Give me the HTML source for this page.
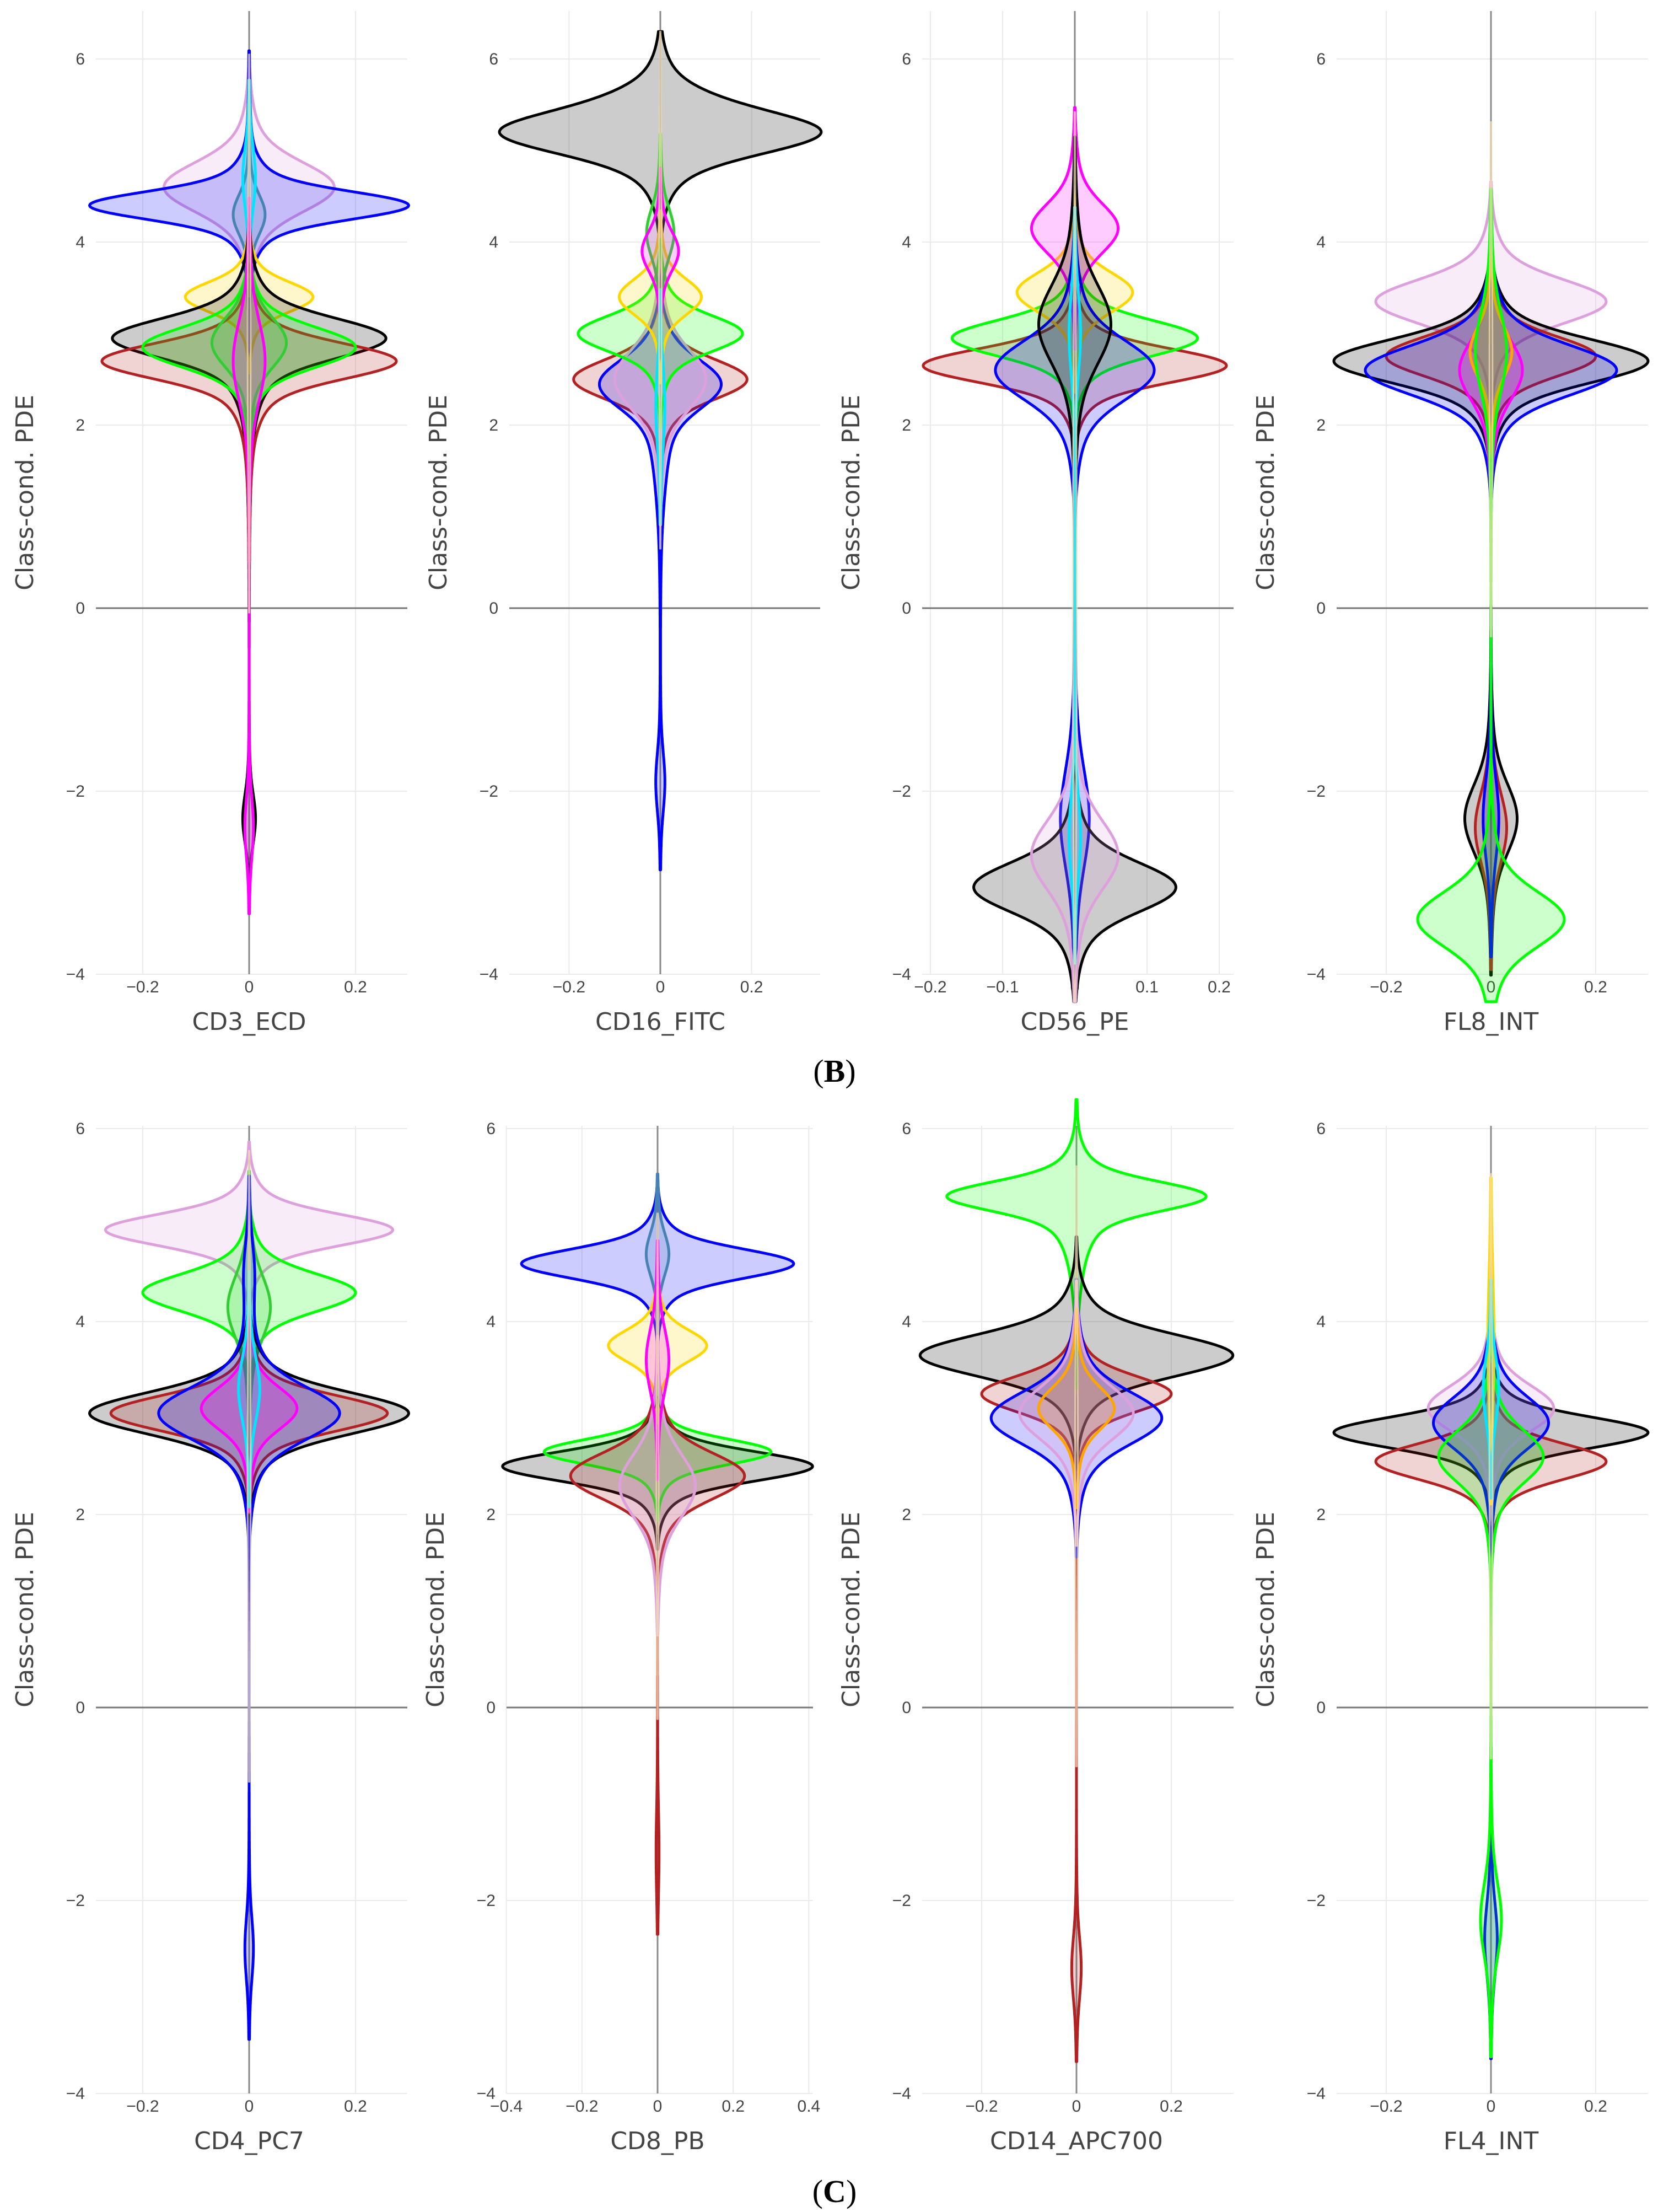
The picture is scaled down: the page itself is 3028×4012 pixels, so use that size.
<!DOCTYPE html>
<html><head><meta charset="utf-8">
<style>
html,body{margin:0;padding:0;background:#fff;}
svg{display:block;}
.tick{font-family:"Liberation Sans Narrow","Liberation Sans",sans-serif;font-size:30px;fill:#444;}
.atitle{font-family:"DejaVu Sans","Liberation Sans",sans-serif;font-size:44px;fill:#444;}
.lab{font-family:"Liberation Serif",serif;font-size:58px;fill:#000;}
</style></head>
<body>
<svg id="fig" width="3028" height="4012" viewBox="0 0 3028 4012" xmlns="http://www.w3.org/2000/svg">
<text class="lab" x="1514" y="1962" text-anchor="middle">(<tspan font-weight="bold">B</tspan>)</text>
<text class="lab" x="1514" y="3994" text-anchor="middle">(<tspan font-weight="bold">C</tspan>)</text>
</svg>
<script>
// ---- data ----
const panelTitles = ["CD3_ECD","CD16_FITC","CD56_PE","FL8_INT","CD4_PC7","CD8_PB","CD14_APC700","FL4_INT"];
const yTicks = [-4,-2,0,2,4,6];
const xTicksA = [-0.2,0,0.2];
const xTicksB3 = [-0.2,-0.1,0,0.1,0.2];
const xTicksC2 = [-0.4,-0.2,0,0.2,0.4];
// violins: [color, [[mu, halfWidth, sigma], ...]]
const violinsB1 = [
 ["#dda0dd",[[4.6,0.16,0.25]]],
 ["#0000ff",[[4.4,0.29,0.14],[4.4,0.01,0.5]]],
 ["#4682b4",[[4.3,0.03,0.2]]],
 ["#00e5ff",[[4.7,0.012,0.3]]],
 ["#ffd700",[[3.4,0.12,0.15]]],
 ["#000000",[[2.95,0.25,0.2],[2.4,0.01,0.6],[-2.3,0.012,0.25]]],
 ["#b22222",[[2.7,0.27,0.18],[2.2,0.01,0.5]]],
 ["#00ff00",[[2.85,0.2,0.2]]],
 ["#32cd32",[[2.9,0.07,0.25]]],
 ["#ff00ff",[[2.7,0.03,0.4],[-2.4,0.008,0.3]]],
 ["#f5deb3",[[3,0.003,1.4]]]
];
const violinsB2 = [
 ["#000000",[[5.2,0.35,0.22],[5.6,0.02,0.15]]],
 ["#b22222",[[2.5,0.19,0.2]]],
 ["#0000ff",[[2.45,0.13,0.25],[1.6,0.01,0.5],[-1.9,0.01,0.3]]],
 ["#dda0dd",[[2.5,0.1,0.3]]],
 ["#00ff00",[[3.0,0.18,0.18]]],
 ["#ffd700",[[3.4,0.09,0.18]]],
 ["#32cd32",[[4.1,0.03,0.25]]],
 ["#ff00ff",[[3.9,0.04,0.2]]],
 ["#00e5ff",[[2.2,0.01,0.4]]],
 ["#f5deb3",[[3.5,0.003,1.4]]]
];
const violinsB3 = [
 ["#b22222",[[2.65,0.21,0.17]]],
 ["#00ff00",[[2.95,0.17,0.18]]],
 ["#ffd700",[[3.45,0.08,0.2]]],
 ["#ff00ff",[[4.15,0.06,0.25]]],
 ["#0000ff",[[2.6,0.11,0.3],[-2.3,0.02,0.5]]],
 ["#000000",[[3.1,0.05,0.4],[-3.05,0.14,0.25]]],
 ["#dda0dd",[[-2.7,0.06,0.35]]],
 ["#00e5ff",[[-2.5,0.008,0.4],[3.0,0.008,0.4]]],
 ["#f5deb3",[[0,0.003,2.2]]]
];
const violinsB4 = [
 ["#dda0dd",[[3.35,0.22,0.22]]],
 ["#000000",[[2.7,0.3,0.22],[-2.3,0.05,0.35]]],
 ["#b22222",[[2.75,0.2,0.2],[-2.4,0.03,0.35]]],
 ["#0000ff",[[2.6,0.24,0.25],[-2.3,0.015,0.4]]],
 ["#ff00ff",[[2.6,0.06,0.3]]],
 ["#ffa500",[[2.8,0.04,0.25]]],
 ["#00ff00",[[2.8,0.03,0.4],[-3.4,0.14,0.28]]],
 ["#f5deb3",[[2.5,0.003,1.3]]]
];
const violinsC1 = [
 ["#dda0dd",[[4.95,0.27,0.15]]],
 ["#00ff00",[[4.3,0.2,0.18]]],
 ["#32cd32",[[4.15,0.04,0.3]]],
 ["#000000",[[3.05,0.3,0.2]]],
 ["#b22222",[[3.05,0.26,0.17]]],
 ["#0000ff",[[3.05,0.17,0.25],[4.5,0.01,0.3],[-2.5,0.008,0.3]]],
 ["#ff00ff",[[3.1,0.09,0.2]]],
 ["#00e5ff",[[3.3,0.02,0.3]]],
 ["#f5deb3",[[2.5,0.003,1.5]]]
];
const violinsC2 = [
 ["#0000ff",[[4.6,0.36,0.14]]],
 ["#4682b4",[[4.7,0.03,0.2]]],
 ["#ffd700",[[3.75,0.13,0.15]]],
 ["#000000",[[2.5,0.41,0.14]]],
 ["#00ff00",[[2.65,0.3,0.12]]],
 ["#b22222",[[2.4,0.23,0.22],[-1.5,0.004,0.4]]],
 ["#dda0dd",[[2.3,0.1,0.3]]],
 ["#ff00ff",[[3.6,0.03,0.3]]],
 ["#f5deb3",[[2.5,0.003,1.4]]]
];
const violinsC3 = [
 ["#00ff00",[[5.3,0.26,0.14],[4.9,0.02,0.4]]],
 ["#000000",[[3.65,0.33,0.2]]],
 ["#b22222",[[3.25,0.2,0.17],[-2.7,0.01,0.3]]],
 ["#0000ff",[[3.0,0.18,0.25]]],
 ["#dda0dd",[[3.05,0.12,0.25]]],
 ["#ffa500",[[3.1,0.08,0.2]]],
 ["#f5deb3",[[2.5,0.003,1.5]]]
];
const violinsC4 = [
 ["#000000",[[2.85,0.3,0.15]]],
 ["#b22222",[[2.55,0.22,0.17]]],
 ["#dda0dd",[[3.1,0.12,0.22]]],
 ["#0000ff",[[2.95,0.11,0.25],[-2.4,0.012,0.35]]],
 ["#00ff00",[[2.6,0.1,0.25],[-2.2,0.02,0.35]]],
 ["#ffd700",[[3.8,0.006,0.6]]],
 ["#00e5ff",[[3.3,0.015,0.3]]],
 ["#f5deb3",[[2.5,0.003,1.4]]]
];
const panelViolins = [violinsB1,violinsB2,violinsB3,violinsB4,violinsC1,violinsC2,violinsC3,violinsC4];

// ---- layout ----
const rows = [{zero:1103,unit:166,top:20,tickY:1800,titleY:1868},{zero:3097,unit:175,top:2042,tickY:3830,titleY:3898}];
const cols = [
 [{zero:452,scale:965,l:174,r:739},{zero:1198,scale:828,l:924,r:1488},{zero:1950,scale:1310,l:1673,r:2238},{zero:2705,scale:950,l:2425,r:2990}],
 [{zero:452,scale:965,l:174,r:739},{zero:1193,scale:686,l:919,r:1475},{zero:1953,scale:860,l:1673,r:2238},{zero:2705,scale:950,l:2425,r:2990}]
];
const NS="http://www.w3.org/2000/svg";
const svg=document.getElementById('fig');
function mk(tag,attrs,parent){const e=document.createElementNS(NS,tag);for(const k in attrs)e.setAttribute(k,attrs[k]);(parent||svg).appendChild(e);return e;}
function kern(d,s){return 0.75*Math.exp(-0.5*Math.pow(d/s,2))+0.25*Math.exp(-0.5*Math.pow(d/(2*s),2));}

for(let p=0;p<8;p++){
 const ri=p<4?0:1, ci=p%4, R=rows[ri], C=cols[ri][ci];
 const yS=v=>R.zero-v*R.unit, xS=v=>C.zero+v*C.scale;
 const g=mk('g',{});
 
 
 const xt=(p===2)?xTicksB3:(p===5?xTicksC2:xTicksA);
 xt.forEach(t=>{ if(t!==0){const l=mk('line',{x1:xS(t),x2:xS(t),y1:R.top,y2:yS(-4),stroke:'#ebebeb','stroke-width':2},g);
   
   }
 });
 yTicks.forEach(t=>{ if(t!==0){const l=mk('line',{x1:C.l,x2:C.r,y1:yS(t),y2:yS(t),stroke:'#ebebeb','stroke-width':2},g);
   
   }
   const tx=mk('text',{x:C.l-20,y:yS(t)+10,'text-anchor':'end',class:'tick'},g);
   tx.textContent=(t<0?'\u2212':'')+Math.abs(t);
   
   
 });
 xt.forEach(t=>{const tx=mk('text',{x:xS(t),y:R.tickY,'text-anchor':'middle',class:'tick'},g);
   tx.textContent=(t<0?'\u2212':'')+String(Math.abs(t));
   
   });
 const zl=mk('line',{x1:C.l,x2:C.r,y1:yS(0),y2:yS(0),stroke:'#777','stroke-width':3},g);
 
 
 const vl=mk('line',{x1:xS(0),x2:xS(0),y1:R.top,y2:yS(-4),stroke:'#8a8a8a','stroke-width':3},g);
 
 
 panelViolins[p].forEach(vi=>{
  const col=vi[0], comps=vi[1], pts=[];
  for(let y=-4.3;y<=6.3;y+=0.01){let w=0;comps.forEach(c=>{w+=c[1]*kern(y-c[0],c[2]);});pts.push([y,w]);}
  let a=pts.findIndex(q=>q[1]*C.scale>0.6), b=pts.length-1-[...pts].reverse().findIndex(q=>q[1]*C.scale>0.6);
  if(a<0)return;
  const sub=pts.slice(a,b+1);
  let d='M'+sub.map(q=>(xS(q[1])).toFixed(1)+','+yS(q[0]).toFixed(1)).join('L');
  d+='L'+sub.slice().reverse().map(q=>(xS(-q[1])).toFixed(1)+','+yS(q[0]).toFixed(1)).join('L')+'Z';
  const isW=col==="#f5deb3";
  const pa=mk('path',{d:d,fill:col,'fill-opacity':0.2,stroke:col,'stroke-width':isW?3:5,'stroke-opacity':isW?0.7:1,'stroke-linejoin':'round'},g);
  
  
 });
 const tt=mk('text',{x:xS(0),y:R.titleY,'text-anchor':'middle',class:'atitle'},g);
 tt.textContent=panelTitles[p];
 
 
 const ymid=(R.top+yS(-4))/2;
 const yt=mk('text',{x:0,y:0,'text-anchor':'middle',class:'atitle',transform:'translate('+(C.l-114)+','+ymid+') rotate(-90)'},g);
 yt.textContent='Class-cond. PDE';
 
 
}
</script>
</body></html>
